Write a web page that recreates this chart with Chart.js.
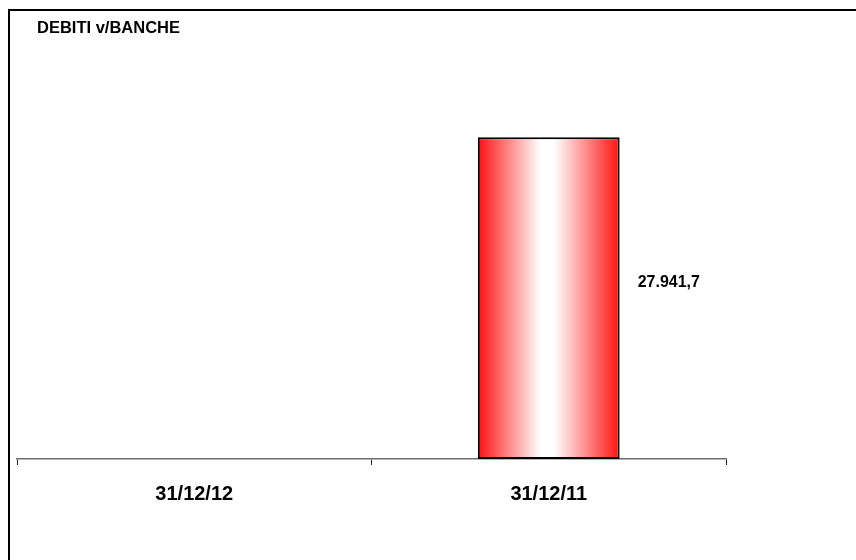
<!DOCTYPE html>
<html>
<head>
<meta charset="utf-8">
<script src="https://cdn.jsdelivr.net/npm/chart.js@4.4.1/dist/chart.umd.min.js"></script>
<style>
  html, body { margin: 0; padding: 0; background: #fff; }
  #wrap { width: 856px; height: 560px; }
</style>
</head>
<body>
<div id="wrap"><canvas id="chart" width="856" height="560"></canvas></div>
<script>
// Données du graphique
const chartTitle = 'DEBITI v/BANCHE';
const categories = ['31/12/12', '31/12/11'];
const values = [null, 27941.7];
const yMax = 35000;

const barPct = 0.4;

// format italien : 27.941,7
function formatIt(v) {
  const parts = v.toFixed(1).split('.');
  const intPart = parts[0].replace(/\B(?=(\d{3})+(?!\d))/g, '.');
  return intPart + ',' + parts[1];
}

// dégradé horizontal rouge / blanc / rouge sur chaque barre
function barGradient(context) {
  const chart = context.chart;
  const xScale = chart.scales.x;
  if (!chart.chartArea || !xScale) return '#ff3030';
  const cx = xScale.getPixelForValue(context.dataIndex);
  const half = (xScale.width / categories.length) * barPct / 2;
  const g = chart.ctx.createLinearGradient(cx - half, 0, cx + half, 0);
  g.addColorStop(0, '#ff1010');
  g.addColorStop(0.44, '#ffffff');
  g.addColorStop(0.54, '#ffffff');
  g.addColorStop(1, '#ff1010');
  return g;
}

// fond blanc + cadre + titre
const framePlugin = {
  id: 'frame',
  beforeDraw(chart) {
    const ctx = chart.ctx;
    ctx.save();
    ctx.fillStyle = '#ffffff';
    ctx.fillRect(0, 0, chart.width, chart.height);
    ctx.strokeStyle = '#000000';
    ctx.lineWidth = 2;
    ctx.strokeRect(9, 10, chart.width + 20, chart.height + 20);
    ctx.fillStyle = '#000000';
    ctx.font = 'bold 16.5px "Liberation Sans", Arial, sans-serif';
    ctx.textBaseline = 'middle';
    ctx.textAlign = 'left';
    ctx.fillText(chartTitle, 37, 28);
    ctx.restore();
  }
};

// étiquette de valeur à droite de la barre
const valueLabels = {
  id: 'valueLabels',
  afterDatasetsDraw(chart) {
    const ctx = chart.ctx;
    const meta = chart.getDatasetMeta(0);
    ctx.save();
    ctx.fillStyle = '#000000';
    ctx.font = 'bold 16px "Liberation Sans", Arial, sans-serif';
    ctx.textBaseline = 'middle';
    ctx.textAlign = 'left';
    meta.data.forEach((bar, i) => {
      const v = values[i];
      if (v === null || v === undefined) return;
      const y = (bar.y + bar.base) / 2 - 16;
      ctx.fillText(formatIt(v), bar.x + bar.width / 2 + 18, y);
    });
    ctx.restore();
  }
};

new Chart(document.getElementById('chart'), {
  type: 'bar',
  data: {
    labels: categories,
    datasets: [{
      data: values,
      backgroundColor: barGradient,
      borderColor: '#000000',
      borderWidth: 2,
      borderSkipped: false,
      categoryPercentage: 1,
      barPercentage: barPct
    }]
  },
  options: {
    responsive: false,
    animation: false,
    layout: {
      padding: { left: 17, right: 130, top: 56, bottom: 37 }
    },
    plugins: {
      legend: { display: false },
      title: { display: false },
      tooltip: { enabled: false }
    },
    scales: {
      x: {
        border: { display: true, color: '#6e6e6e', width: 1.5 },
        grid: {
          display: true,
          drawOnChartArea: false,
          drawTicks: true,
          tickLength: 6,
          offset: true,
          color: '#222222'
        },
        ticks: {
          color: '#000000',
          padding: 17,
          font: { family: '"Liberation Sans", Arial, sans-serif', size: 20, weight: 'bold' }
        }
      },
      y: {
        display: false,
        min: 0,
        max: yMax
      }
    }
  },
  plugins: [framePlugin, valueLabels]
});
</script>
</body>
</html>
